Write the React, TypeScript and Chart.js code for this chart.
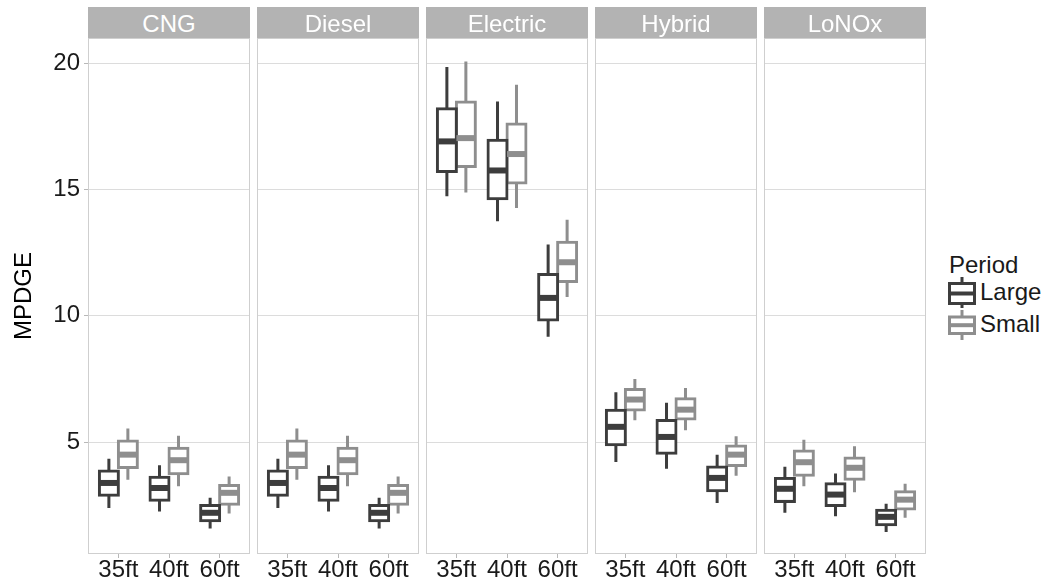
import React, { useEffect, useRef } from "react";
import { Chart, registerables } from "chart.js";

Chart.register(...registerables);

// ---------- data ----------
const fuels = ["CNG", "Diesel", "Electric", "Hybrid", "LoNOx"];
const sizes = ["35ft", "40ft", "60ft"];
const periods = ["Large", "Small"];
const yTickValues = [5, 10, 15, 20];
const yTitle = "MPDGE";
const legendTitle = "Period";

// each row = one fuel, columns = 35ft, 40ft, 60ft
const largeLow = [
  [2.4, 2.26, 1.59],
  [2.4, 2.26, 1.59],
  [14.73, 13.74, 9.17],
  [4.22, 3.95, 2.6],
  [2.21, 2.07, 1.45],
];
const largeQ1 = [
  [2.9, 2.71, 1.9],
  [2.9, 2.71, 1.9],
  [15.71, 14.63, 9.84],
  [4.9, 4.57, 3.08],
  [2.66, 2.5, 1.74],
];
const largeMedian = [
  [3.39, 3.19, 2.21],
  [3.39, 3.19, 2.21],
  [16.9, 15.75, 10.71],
  [5.61, 5.21, 3.59],
  [3.16, 2.93, 2.05],
];
const largeQ3 = [
  [3.86, 3.62, 2.5],
  [3.86, 3.62, 2.5],
  [18.19, 16.95, 11.64],
  [6.27, 5.86, 4.02],
  [3.57, 3.36, 2.31],
];
const largeHigh = [
  [4.35, 4.09, 2.8],
  [4.35, 4.09, 2.8],
  [19.84, 18.48, 12.82],
  [6.98, 6.56, 4.51],
  [4.03, 3.76, 2.57],
];

const smallLow = [
  [3.52, 3.26, 2.18],
  [3.52, 3.26, 2.18],
  [14.88, 14.27, 10.75],
  [5.87, 5.47, 3.68],
  [3.26, 3.02, 2.01],
];
const smallQ1 = [
  [4.0, 3.75, 2.55],
  [4.0, 3.75, 2.55],
  [15.91, 15.25, 11.36],
  [6.28, 5.92, 4.08],
  [3.69, 3.54, 2.36],
];
const smallMedian = [
  [4.51, 4.29, 3.0],
  [4.51, 4.29, 3.0],
  [17.03, 16.4, 12.12],
  [6.69, 6.29, 4.51],
  [4.21, 3.99, 2.73],
];
const smallQ3 = [
  [5.05, 4.76, 3.29],
  [5.05, 4.76, 3.29],
  [18.46, 17.59, 12.91],
  [7.09, 6.72, 4.85],
  [4.65, 4.38, 3.04],
];
const smallHigh = [
  [5.54, 5.26, 3.65],
  [5.54, 5.26, 3.65],
  [20.06, 19.14, 13.8],
  [7.5, 7.15, 5.24],
  [5.1, 4.84, 3.36],
];

// ---------- style / layout ----------
const FONT = "'Liberation Sans', Arial, Helvetica, sans-serif";
const periodColors = ["#3d3d3d", "#8e8e8e"];
const gridColor = "#dcdcdc";
const panelBorder = "#cfcfcf";
const tickMarkColor = "#b8b8b8";
const stripFill = "#b3b3b3";
const textColor = "#1a1a1a";

const W = 1048;
const H = 586;
const panelLeft = [88, 257, 426, 595, 764];
const panelW = 162;
const plotTop = 38;
const plotBottom = 554;
const Y_MIN = 0.58;
const Y_MAX = 20.99;

function Facet({ fi }: { fi: number }) {
  const ref = useRef<HTMLCanvasElement>(null);
  const first = fi === 0;
  const canvasLeft = first ? 0 : panelLeft[fi] - 2;
  const canvasWidth = first ? panelLeft[0] + panelW + 2 : panelW + 4;

  useEffect(() => {
    if (!ref.current) return;
    const stats = [
      { low: largeLow[fi], q1: largeQ1[fi], med: largeMedian[fi], q3: largeQ3[fi], high: largeHigh[fi] },
      { low: smallLow[fi], q1: smallQ1[fi], med: smallMedian[fi], q3: smallQ3[fi], high: smallHigh[fi] },
    ];

    const boxParts = {
      id: "boxParts",
      beforeDatasetsDraw(chart: any) {
        const { ctx, chartArea: a, scales } = chart;
        const y = scales.y;
        ctx.save();
        ctx.strokeStyle = panelBorder;
        ctx.lineWidth = 1;
        ctx.strokeRect(a.left + 0.5, a.top + 0.5, a.width - 1, a.height - 1);
        ctx.lineCap = "butt";
        chart.data.datasets.forEach((_ds: any, di: number) => {
          const meta = chart.getDatasetMeta(di);
          const s = stats[di];
          meta.data.forEach((el: any, j: number) => {
            ctx.strokeStyle = periodColors[di];
            ctx.lineWidth = 3;
            ctx.beginPath();
            ctx.moveTo(el.x, y.getPixelForValue(s.high[j]));
            ctx.lineTo(el.x, y.getPixelForValue(s.q3[j]));
            ctx.moveTo(el.x, y.getPixelForValue(s.q1[j]));
            ctx.lineTo(el.x, y.getPixelForValue(s.low[j]));
            ctx.stroke();
          });
        });
        ctx.restore();
      },
      afterDatasetsDraw(chart: any) {
        const { ctx, scales } = chart;
        const y = scales.y;
        ctx.save();
        ctx.lineCap = "butt";
        chart.data.datasets.forEach((_ds: any, di: number) => {
          const meta = chart.getDatasetMeta(di);
          const s = stats[di];
          meta.data.forEach((el: any, j: number) => {
            const py = y.getPixelForValue(s.med[j]);
            ctx.strokeStyle = periodColors[di];
            ctx.lineWidth = 6;
            ctx.beginPath();
            ctx.moveTo(el.x - el.width / 2, py);
            ctx.lineTo(el.x + el.width / 2, py);
            ctx.stroke();
          });
        });
        ctx.restore();
      },
    };

    const datasets = periods.map((p, di) => ({
      label: p,
      data: sizes.map((_s, j) => ({ x: j + 1, y: [stats[di].q1[j], stats[di].q3[j]] })),
      backgroundColor: "#ffffff",
      borderColor: periodColors[di],
      borderWidth: 3,
      borderSkipped: false,
      inflateAmount: 1.5,
      categoryPercentage: 0.75,
      barPercentage: 1,
    }));

    const chart = new Chart(ref.current, {
      type: "bar",
      data: { datasets: datasets as any },
      plugins: [boxParts],
      options: {
        animation: false,
        responsive: false,
        devicePixelRatio: 1,
        layout: { padding: { left: first ? 0 : 2, right: 2, top: plotTop, bottom: 0 } },
        plugins: { legend: { display: false }, tooltip: { enabled: false } },
        scales: {
          x: {
            type: "linear",
            offset: false,
            min: 0.4,
            max: 3.6,
            afterBuildTicks: (scale: any) => {
              scale.ticks = sizes.map((_s, j) => ({ value: j + 1 }));
            },
            afterFit: (scale: any) => {
              scale.height = H - plotBottom;
            },
            grid: {
              display: true,
              offset: false,
              drawOnChartArea: false,
              drawTicks: true,
              tickLength: 4,
              tickColor: tickMarkColor,
            },
            border: { display: false },
            ticks: {
              autoSkip: false,
              maxRotation: 0,
              padding: 0,
              color: textColor,
              font: { family: FONT, size: 24, lineHeight: 1 },
              callback: (v: any) => sizes[Math.round(Number(v)) - 1] ?? "",
            },
          },
          y: {
            type: "linear",
            min: Y_MIN,
            max: Y_MAX,
            afterBuildTicks: (scale: any) => {
              scale.ticks = yTickValues.map((v) => ({ value: v }));
            },
            afterFit: (scale: any) => {
              scale.width = first ? panelLeft[0] : 0;
            },
            grid: {
              color: gridColor,
              lineWidth: 1,
              drawTicks: first,
              tickLength: 4,
              tickColor: tickMarkColor,
            },
            border: { display: false },
            ticks: {
              display: first,
              padding: 4,
              color: textColor,
              font: { family: FONT, size: 24 },
              callback: (v: any) => String(v),
            },
            title: {
              display: first,
              text: yTitle,
              color: "#000000",
              font: { family: FONT, size: 24 },
              padding: { top: 10, bottom: 0 },
            },
          },
        },
      } as any,
    });
    return () => chart.destroy();
  }, [fi]);

  return (
    <canvas
      ref={ref}
      width={canvasWidth}
      height={H}
      style={{ position: "absolute", left: canvasLeft, top: 0, width: canvasWidth, height: H, display: "block" }}
    />
  );
}

function LegendKeys() {
  return (
    <svg
      width={40}
      height={70}
      style={{ position: "absolute", left: 944, top: 274, overflow: "visible" }}
    >
      {/* Large */}
      <line x1={18} y1={3} x2={18} y2={34} stroke={periodColors[0]} strokeWidth={3} />
      <rect x={5.5} y={9.5} width={25} height={20} fill="#ffffff" stroke={periodColors[0]} strokeWidth={3} />
      <line x1={5.5} y1={19.5} x2={30.5} y2={19.5} stroke={periodColors[0]} strokeWidth={4} />
      {/* Small */}
      <line x1={18} y1={36} x2={18} y2={66} stroke={periodColors[1]} strokeWidth={3} />
      <rect x={5.5} y={43} width={25} height={16.5} fill="#ffffff" stroke={periodColors[1]} strokeWidth={3} />
      <line x1={5.5} y1={51.2} x2={30.5} y2={51.2} stroke={periodColors[1]} strokeWidth={4} />
    </svg>
  );
}

export default function App() {
  const textStyle: React.CSSProperties = {
    position: "absolute",
    fontFamily: FONT,
    fontSize: 24,
    lineHeight: "24px",
    color: textColor,
    whiteSpace: "nowrap",
  };
  return (
    <div
      style={{
        position: "absolute",
        left: 0,
        top: 0,
        width: W,
        height: H,
        background: "#ffffff",
        overflow: "hidden",
      }}
    >
      {fuels.map((f, i) => (
        <Facet key={f} fi={i} />
      ))}
      {fuels.map((f, i) => (
        <div
          key={"strip-" + f}
          style={{
            position: "absolute",
            left: panelLeft[i],
            top: 7,
            width: panelW,
            height: 31,
            background: stripFill,
            color: "#ffffff",
            fontFamily: FONT,
            fontSize: 24,
            lineHeight: "31px",
            paddingTop: 1,
            boxSizing: "border-box",
            textAlign: "center",
          }}
        >
          {f}
        </div>
      ))}
      <div style={{ ...textStyle, left: 949, top: 253 }}>{legendTitle}</div>
      <div style={{ ...textStyle, left: 980, top: 280 }}>{periods[0]}</div>
      <div style={{ ...textStyle, left: 980, top: 312 }}>{periods[1]}</div>
      <LegendKeys />
    </div>
  );
}
